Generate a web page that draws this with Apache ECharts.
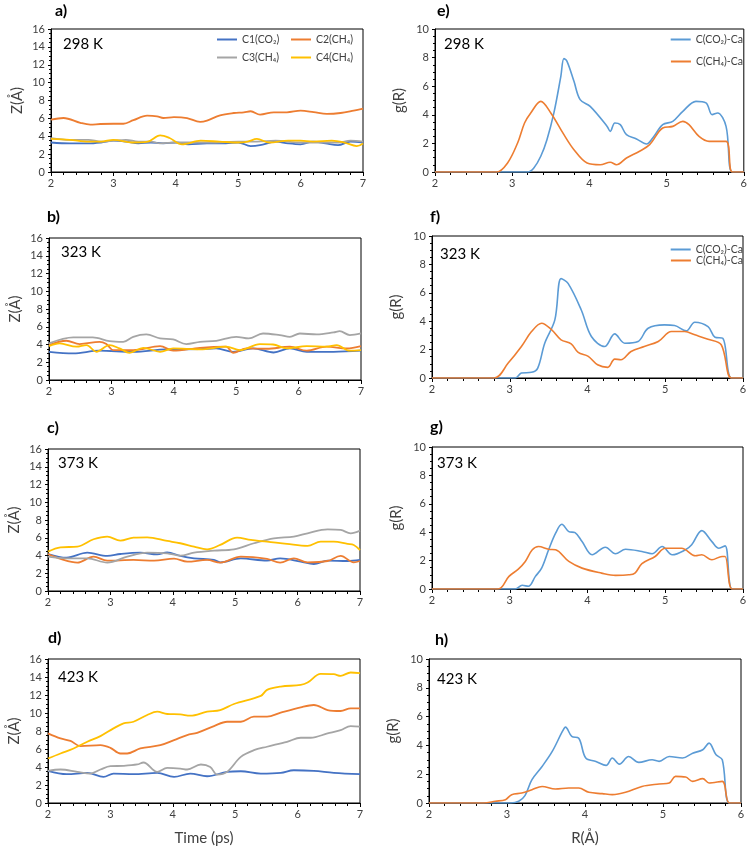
<!DOCTYPE html>
<html><head><meta charset="utf-8">
<script src="https://cdn.jsdelivr.net/npm/echarts@6/dist/echarts.min.js"></script>
<style>html,body{margin:0;padding:0;background:#fff}#c{width:750px;height:847px}</style>
</head><body><div id="c"></div><script>
// ---------- Data: Z(Å) vs Time (ps) ----------
const a_C1 = [[2,3.3],[2.3,3.2],[2.6,3.2],[2.8,3.3],[3.0,3.5],[3.2,3.4],[3.4,3.2],[3.6,3.3],[3.8,3.2],[4.0,3.3],[4.2,3.1],[4.5,3.2],[4.8,3.2],[5.0,3.3],[5.2,2.9],[5.35,3.0],[5.6,3.4],[5.8,3.2],[6.0,3.1],[6.2,3.4],[6.4,3.2],[6.6,3.0],[6.8,3.4],[7.0,3.3]];
const a_C2 = [[2,5.86],[2.2,6.04],[2.47,5.5],[2.63,5.3],[2.79,5.37],[3.0,5.4],[3.16,5.4],[3.32,5.8],[3.54,6.3],[3.7,6.23],[3.8,6.04],[3.97,6.15],[4.18,6.04],[4.39,5.6],[4.5,5.75],[4.71,6.34],[4.93,6.6],[5.09,6.68],[5.2,6.8],[5.35,6.42],[5.57,6.68],[5.78,6.68],[6.0,6.87],[6.21,6.7],[6.42,6.5],[6.64,6.6],[6.85,6.87],[7.0,7.09]];
const a_C3 = [[2,3.8],[2.3,3.6],[2.6,3.6],[2.8,3.4],[3.0,3.5],[3.2,3.6],[3.4,3.4],[3.6,3.4],[3.75,3.2],[4.0,3.3],[4.3,3.3],[4.6,3.3],[5.0,3.4],[5.3,3.4],[5.6,3.5],[6.0,3.3],[6.3,3.3],[6.6,3.3],[6.8,3.5],[7.0,3.4]];
const a_C4 = [[2,3.7],[2.3,3.6],[2.6,3.4],[2.8,3.4],[3.0,3.6],[3.3,3.3],[3.55,3.4],[3.75,4.1],[3.9,3.8],[4.1,3.1],[4.4,3.5],[4.7,3.4],[5.0,3.3],[5.15,3.4],[5.3,3.7],[5.5,3.3],[5.8,3.5],[6.0,3.5],[6.2,3.4],[6.5,3.5],[6.7,3.3],[6.9,2.9],[7.0,3.2]];

const b_C1 = [[2,3.18],[2.39,3.0],[2.8,3.3],[3.35,3.18],[3.88,3.45],[4.42,3.48],[4.68,3.56],[4.95,3.18],[5.27,3.56],[5.6,3.1],[5.86,3.56],[6.13,3.18],[6.56,3.18],[7,3.3]];
const b_C2 = [[2,3.93],[2.28,4.42],[2.49,4.05],[2.81,4.3],[2.92,4.05],[3.03,3.37],[3.35,3.37],[3.78,3.82],[3.99,3.3],[4.42,3.63],[4.84,3.75],[4.95,3.07],[5.17,3.56],[5.49,3.52],[5.86,3.75],[6.13,3.3],[6.45,3.75],[6.77,3.56],[7,3.82]];
const b_C3 = [[2,4.12],[2.39,4.8],[2.7,4.8],[2.97,4.38],[3.19,4.3],[3.35,4.87],[3.56,5.13],[3.78,4.68],[3.99,4.57],[4.2,4.05],[4.42,4.3],[4.68,4.42],[5.0,4.87],[5.2,4.68],[5.43,5.24],[5.7,5.06],[5.86,4.87],[6.02,5.24],[6.29,5.13],[6.56,5.36],[6.66,5.5],[6.82,5.06],[7,5.24]];
const b_C4 = [[2,3.82],[2.17,4.12],[2.44,3.75],[2.6,3.93],[2.76,3.18],[2.97,3.93],[3.13,3.56],[3.29,3.07],[3.51,3.63],[3.78,3.18],[3.99,3.56],[4.42,3.45],[4.84,3.75],[5.06,3.37],[5.38,4.05],[5.59,4.0],[5.81,3.56],[6.13,3.82],[6.45,3.75],[6.61,3.93],[6.82,3.3],[7,3.37]];

const c_C1 = [[2,4.17],[2.3,3.76],[2.63,4.32],[2.95,3.95],[3.16,4.17],[3.48,4.32],[3.75,4.13],[3.91,4.36],[4.12,3.95],[4.34,3.68],[4.66,3.5],[4.76,3.23],[5.09,3.68],[5.51,3.42],[5.72,3.68],[6.05,3.31],[6.26,3.04],[6.48,3.42],[6.8,3.38],[7,3.5]];
const c_C2 = [[2,4.17],[2.25,3.5],[2.47,3.2],[2.73,3.87],[2.95,3.42],[3.37,3.5],[3.7,3.42],[4.02,3.65],[4.23,3.31],[4.55,3.5],[4.76,3.2],[5.09,3.87],[5.51,3.61],[5.72,3.2],[5.94,3.68],[6.16,3.23],[6.48,3.38],[6.69,3.95],[6.9,3.23],[7,3.38]];
const c_C3 = [[2,3.87],[2.3,3.68],[2.63,3.68],[2.95,3.2],[3.27,3.87],[3.59,4.32],[3.91,4.25],[4.12,3.98],[4.34,4.32],[4.66,4.55],[4.98,4.7],[5.3,5.38],[5.62,5.94],[5.94,6.13],[6.16,6.5],[6.48,6.95],[6.69,6.88],[6.85,6.5],[7,6.8]];
const c_C4 = [[2,4.44],[2.2,4.92],[2.47,5.0],[2.73,5.83],[2.95,6.13],[3.16,5.68],[3.37,6.02],[3.59,6.05],[3.91,5.64],[4.12,5.38],[4.34,5.0],[4.55,4.7],[4.76,5.19],[5.03,6.02],[5.25,5.75],[5.51,5.56],[5.83,5.3],[6.16,5.08],[6.37,5.56],[6.58,5.56],[6.8,5.3],[6.9,5.19],[7,4.62]];

const d_C1 = [[2,3.57],[2.3,3.2],[2.63,3.35],[2.89,2.9],[3.05,3.27],[3.37,3.2],[3.75,3.35],[4.02,2.9],[4.28,3.27],[4.55,2.97],[4.87,3.46],[5.09,3.53],[5.41,3.27],[5.73,3.35],[5.94,3.64],[6.26,3.57],[6.58,3.35],[7,3.2]];
const d_C2 = [[2,7.73],[2.2,7.17],[2.36,6.9],[2.52,6.32],[2.84,6.43],[3.0,6.13],[3.16,5.5],[3.27,5.5],[3.48,6.06],[3.8,6.43],[4.02,6.99],[4.23,7.55],[4.39,7.8],[4.66,8.55],[4.87,9.03],[5.09,9.03],[5.3,9.59],[5.51,9.59],[5.73,10.04],[6.05,10.63],[6.26,10.89],[6.48,10.33],[6.69,10.22],[6.85,10.52],[7,10.52]];
const d_C3 = [[2,3.57],[2.2,3.72],[2.47,3.46],[2.68,3.27],[2.84,3.72],[3.0,4.09],[3.21,4.13],[3.43,4.28],[3.53,4.5],[3.75,3.46],[3.91,3.9],[4.12,3.83],[4.23,3.72],[4.45,4.28],[4.6,4.01],[4.71,3.16],[4.87,3.46],[5.09,5.13],[5.3,5.87],[5.51,6.25],[5.83,6.8],[6.05,7.25],[6.21,7.25],[6.48,7.73],[6.69,8.1],[6.85,8.55],[7,8.48]];
const d_C4 = [[2,4.94],[2.2,5.5],[2.41,6.06],[2.63,6.8],[2.84,7.43],[3.05,8.29],[3.21,8.85],[3.37,9.03],[3.59,9.78],[3.75,10.15],[3.91,9.89],[4.12,9.85],[4.28,9.7],[4.55,10.15],[4.76,10.33],[4.98,11.0],[5.41,11.9],[5.51,12.57],[5.73,12.94],[6.05,13.12],[6.16,13.38],[6.37,14.35],[6.58,14.31],[6.69,14.13],[6.85,14.5],[7,14.42]];

// ---------- Data: g(R) vs R(Å) ----------
const e_CO2 = [[2,0],[3.2,0],[3.28,0.28],[3.37,1.1],[3.45,2.26],[3.54,4.13],[3.63,6.69],[3.67,7.93],[3.71,7.74],[3.8,6.34],[3.88,5.06],[4.01,4.59],[4.23,3.19],[4.27,2.84],[4.33,3.43],[4.4,3.31],[4.48,2.61],[4.61,2.31],[4.74,1.96],[4.82,2.38],[4.95,3.31],[5.08,3.54],[5.21,4.24],[5.38,4.94],[5.51,4.83],[5.59,4.01],[5.66,4.13],[5.77,3.19],[5.85,0],[6,0]];
const e_CH4 = [[2,0],[2.8,0],[2.94,0.63],[3.07,2.03],[3.16,3.43],[3.24,4.13],[3.37,4.94],[3.5,4.13],[3.67,2.61],[3.8,1.56],[3.97,0.63],[4.14,0.51],[4.27,0.68],[4.35,0.51],[4.48,0.98],[4.65,1.45],[4.78,1.91],[4.95,3.08],[5.08,3.19],[5.21,3.54],[5.29,3.31],[5.42,2.49],[5.55,2.14],[5.77,2.14],[5.85,0],[6,0]];

const f_CO2 = [[2,0],[3.07,0],[3.15,0.35],[3.28,0.4],[3.36,0.7],[3.45,2.45],[3.58,4.09],[3.66,7.0],[3.75,6.66],[3.92,4.79],[4.05,2.92],[4.22,2.22],[4.35,3.11],[4.48,2.45],[4.65,2.57],[4.78,3.5],[4.99,3.74],[5.12,3.7],[5.27,3.32],[5.38,3.93],[5.55,3.62],[5.64,2.87],[5.74,2.8],[5.85,0],[6,0]];
const f_CH4 = [[2,0],[2.8,0],[2.98,1.05],[3.15,2.22],[3.28,3.27],[3.41,3.86],[3.54,3.39],[3.66,2.69],[3.79,2.41],[3.88,1.8],[4.01,1.52],[4.13,0.93],[4.26,0.75],[4.35,1.33],[4.43,1.29],[4.56,1.87],[4.73,2.22],[4.91,2.57],[5.08,3.27],[5.25,3.27],[5.38,3.04],[5.55,2.73],[5.72,2.34],[5.85,0],[6,0]];

const g_CO2 = [[2,0],[3.07,0],[3.16,0.26],[3.24,0.19],[3.33,0.89],[3.41,1.47],[3.5,2.76],[3.59,3.93],[3.67,4.56],[3.76,4.04],[3.84,3.97],[3.93,3.34],[4.06,2.41],[4.23,2.94],[4.36,2.48],[4.49,2.8],[4.7,2.64],[4.83,2.48],[4.96,2.99],[5.09,2.41],[5.26,2.76],[5.34,3.11],[5.47,4.11],[5.6,3.34],[5.69,2.87],[5.77,3.04],[5.86,0],[6,0]];
const g_CH4 = [[2,0],[2.85,0],[2.99,0.89],[3.11,1.4],[3.2,1.94],[3.29,2.76],[3.37,2.99],[3.5,2.8],[3.59,2.76],[3.76,1.94],[3.93,1.47],[4.18,1.12],[4.36,0.96],[4.53,1.0],[4.61,1.12],[4.7,1.78],[4.87,2.29],[5.0,2.87],[5.21,2.87],[5.39,2.34],[5.47,2.41],[5.6,2.06],[5.73,2.29],[5.77,2.29],[5.86,0],[6,0]];

const h_CO2 = [[2,0],[3.05,0],[3.15,0.12],[3.23,0.51],[3.32,1.62],[3.45,2.54],[3.58,3.58],[3.71,4.97],[3.75,5.27],[3.83,4.62],[3.92,4.5],[4.01,3.12],[4.14,2.89],[4.27,2.61],[4.35,3.12],[4.44,2.7],[4.56,3.23],[4.69,2.82],[4.86,3.0],[4.95,2.89],[5.08,3.23],[5.25,3.12],[5.38,3.46],[5.51,3.7],[5.59,4.16],[5.68,3.35],[5.76,3.0],[5.85,0],[6,0]];
const h_CH4 = [[2,0],[2.7,0],[2.85,0.12],[2.98,0.23],[3.06,0.58],[3.19,0.69],[3.32,0.92],[3.45,1.15],[3.62,0.97],[3.79,1.04],[3.92,1.04],[4.05,0.74],[4.22,0.65],[4.35,0.58],[4.52,0.74],[4.73,1.15],[4.95,1.32],[5.08,1.39],[5.16,1.85],[5.29,1.8],[5.38,1.5],[5.51,1.69],[5.59,1.39],[5.76,1.5],[5.85,0],[6,0]];

const leftNames = ['C1(CO₂)','C2(CH₄)','C3(CH₄)','C4(CH₄)'];
const rightNames = ['C(CO₂)-Ca','C(CH₄)-Ca'];
const panelLabels = ['a)','b)','c)','d)','e)','f)','g)','h)'];
const tempLabels = ['298 K','323 K','373 K','423 K','298 K','323 K','373 K','423 K'];
const zTicks = {min:0,max:16,interval:2};
const gTicks = {min:0,max:10,interval:2};
const timeTicks = {min:2,max:7,interval:1};
const rTicks = {min:2,max:6,interval:1};

const leftColors = ['#4472C4','#ED7D31','#A5A5A5','#FFC000'];
const rightColors = ['#5B9BD5','#ED7D31'];
const FONT = 'Lato, "Open Sans", sans-serif';

const grids = [
  {left:51, top:29, width:312, height:143},
  {left:49, top:238, width:312, height:142},
  {left:48, top:449, width:312, height:142},
  {left:48, top:659, width:312, height:144},
  {left:435, top:29, width:312, height:143},
  {left:432, top:236, width:311, height:142},
  {left:432, top:447, width:311, height:142},
  {left:429, top:659, width:312, height:144}
];
const labelPos = [[55,11],[47,217],[47,428],[48,638],[437,11],[430,217],[430,427],[435,640]];
const tempPos = [[63,44],[61,252],[58,463],[58,677],[444,44],[440,254],[437,463],[437,679]];

const leftData = [[a_C1,a_C2,a_C3,a_C4],[b_C1,b_C2,b_C3,b_C4],[c_C1,c_C2,c_C3,c_C4],[d_C1,d_C2,d_C3,d_C4]];
const rightData = [[e_CO2,e_CH4],[f_CO2,f_CH4],[g_CO2,g_CH4],[h_CO2,h_CH4]];

const axisLine = {show:true, lineStyle:{color:'#000', width:1}};
const labelStyle = {fontSize:11, color:'#404040', fontFamily:FONT, margin:6};

const xAxis = [], yAxis = [], series = [];
for (let i=0;i<8;i++){
  const left = i<4;
  const xt = left ? timeTicks : rTicks;
  const yt = left ? zTicks : gTicks;
  const bottom = (i===3 || i===7);
  xAxis.push({
    type:'value', gridIndex:i, min:xt.min, max:xt.max, interval:xt.interval,
    axisLine, axisTick:{show:true, length:4, inside:false, lineStyle:{color:'#000'}},
    minorTick:{show:true, splitNumber:5, length:3, lineStyle:{color:'#000'}},
    splitLine:{show:false}, axisLabel:labelStyle,
    name: bottom ? (left ? 'Time (ps)' : 'R(Å)') : '',
    nameLocation:'middle', nameGap:28,
    nameTextStyle:{fontSize:15, color:'#404040', fontFamily:FONT}
  });
  yAxis.push({
    type:'value', gridIndex:i, min:yt.min, max:yt.max, interval:yt.interval,
    axisLine, axisTick:{show:true, length:3, lineStyle:{color:'#000'}},
    minorTick:{show:true, splitNumber:4, length:2, lineStyle:{color:'#000'}},
    splitLine:{show:false}, axisLabel:labelStyle,
    name: left ? 'Z(Å)' : 'g(R)', nameLocation:'middle', nameGap: left ? 26 : 28,
    nameTextStyle:{fontSize:15, color:'#404040', fontFamily:FONT}
  });
}
for (let p=0;p<4;p++){
  leftData[p].forEach((d,k)=>{
    series.push({type:'line', name:leftNames[k], xAxisIndex:p, yAxisIndex:p, data:d,
      smooth:0.35, symbol:'none', lineStyle:{width:1.8, color:leftColors[k]}, itemStyle:{color:leftColors[k]}, z:2+k});
  });
  rightData[p].forEach((d,k)=>{
    series.push({type:'line', name:rightNames[k], xAxisIndex:p+4, yAxisIndex:p+4, data:d,
      smooth:0.35, symbol:'none', lineStyle:{width:1.6, color:rightColors[k]}, itemStyle:{color:rightColors[k]}, z:2+k});
  });
}

function oneLegend(name, pos, top){
  return Object.assign({show:true, data:[name], top:top, padding:0, itemWidth:20, itemHeight:2, itemGap:0,
    icon:'rect', selectedMode:false,
    textStyle:{fontSize:10.5, color:'#404040', fontFamily:FONT, overflow:'none'}}, pos);
}
const legend = [
  oneLegend(leftNames[0], {left:217}, 34), oneLegend(leftNames[1], {left:291}, 34),
  oneLegend(leftNames[2], {left:217}, 52), oneLegend(leftNames[3], {left:291}, 52),
  oneLegend(rightNames[0], {right:7}, 34), oneLegend(rightNames[1], {right:7}, 56),
  oneLegend(rightNames[0], {right:7}, 244), oneLegend(rightNames[1], {right:7}, 255)
];

const graphic = [];
for (let i=0;i<8;i++){
  graphic.push({type:'text', x:labelPos[i][0], y:labelPos[i][1],
    style:{text:panelLabels[i], font:'bold 16px '+FONT, fill:'#000', verticalAlign:'middle'}});
  graphic.push({type:'text', x:tempPos[i][0], y:tempPos[i][1],
    style:{text:tempLabels[i], font:'15px '+FONT, fill:'#000', verticalAlign:'middle'}});
}

const grid = grids.map(g=>Object.assign({show:true, borderColor:'#000', borderWidth:1, backgroundColor:'transparent'}, g));

const chart = echarts.init(document.getElementById('c'), null, {renderer:'canvas'});
chart.setOption({backgroundColor:'#fff', animation:false, grid:grid, xAxis:xAxis, yAxis:yAxis, series:series, legend:legend, graphic:graphic});
</script></body></html>
